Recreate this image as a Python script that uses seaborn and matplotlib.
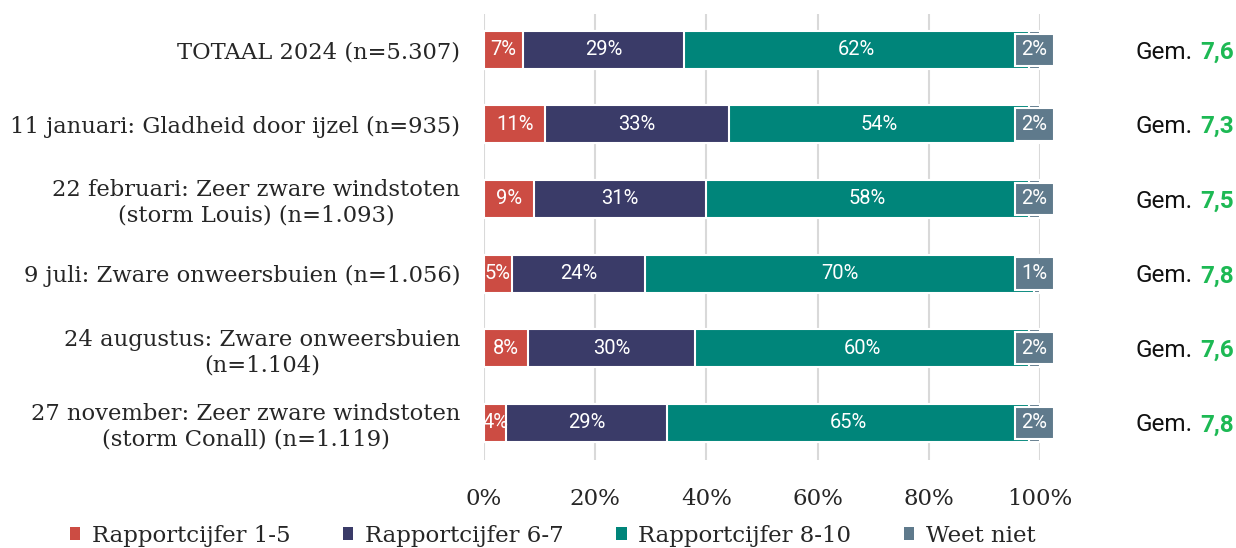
import numpy as np
import pandas as pd
import matplotlib
matplotlib.use("Agg")
import matplotlib.pyplot as plt
import matplotlib.transforms as mtransforms
import seaborn as sns
from matplotlib.patches import Patch

# -------------------------------------------------
# data
# -------------------------------------------------
categories = [
    "TOTAAL 2024 (n=5.307)",
    "11 januari: Gladheid door ijzel (n=935)",
    "22 februari: Zeer zware windstoten\n(storm Louis) (n=1.093)",
    "9 juli: Zware onweersbuien (n=1.056)",
    "24 augustus: Zware onweersbuien\n(n=1.104)",
    "27 november: Zeer zware windstoten\n(storm Conall) (n=1.119)",
]
cijfer_1_5 = [7, 11, 9, 5, 8, 4]
cijfer_6_7 = [29, 33, 31, 24, 30, 29]
cijfer_8_10 = [62, 54, 58, 70, 60, 65]
weet_niet = [2, 2, 2, 1, 2, 2]
gemiddelde = ["7,6", "7,3", "7,5", "7,8", "7,6", "7,8"]

series_names = ["Rapportcijfer 1-5", "Rapportcijfer 6-7", "Rapportcijfer 8-10", "Weet niet"]
colors = ["#cc4c43", "#3a3b68", "#00857a", "#5f7a8c"]

df = pd.DataFrame({
    "cat": categories,
    "s1": cijfer_1_5,
    "s2": cijfer_6_7,
    "s3": cijfer_8_10,
    "s4": weet_niet,
})
vals = df[["s1", "s2", "s3", "s4"]].to_numpy() / 100.0
cum = np.cumsum(vals, axis=1)
for i in range(4):
    df[f"c{i}"] = cum[:, i]

# -------------------------------------------------
# plot
# -------------------------------------------------
sns.set_theme(style="white")
serif = ["DejaVu Serif"]
sans = ["Roboto", "DejaVu Sans"]

fig = plt.figure(figsize=(12.36, 5.48), dpi=100)
ax = fig.add_axes([484 / 1236, 1 - 460 / 548, 556 / 1236, 446 / 548])

# stacked bars: draw the cumulative totals from the back to the front
for i in [3, 2, 1, 0]:
    sns.barplot(data=df, x=f"c{i}", y="cat", color=colors[i], orient="h", saturation=1,
                width=0.51, edgecolor="white", linewidth=1.5, ax=ax, zorder=2)

# labels inside the bars
for r in range(len(categories)):
    left = 0.0
    for i in range(4):
        w = vals[r, i]
        txt = f"{int(round(w * 100))}%"
        if i == 3:
            ax.text(0.99, r, txt, ha="center", va="center",
                    color="white", fontsize=14.5, family=sans, zorder=5, clip_on=False,
                    bbox=dict(boxstyle="square,pad=0.33", fc=colors[3], ec="white", lw=1.5))
        else:
            ax.text(left + w / 2, r, txt, ha="center", va="center",
                    color="white", fontsize=14.5, family=sans, zorder=4)
        left += w

    # average on the right
    tr = mtransforms.blended_transform_factory(fig.transFigure, ax.transData)
    val_t = ax.text(0.998, r + 0.03, gemiddelde[r], transform=tr, ha="right", va="center",
                    color="#1db954", fontsize=17.5, fontweight="bold", family=sans, clip_on=False)
    ax.annotate("Gem.", xy=(0, 0.5), xycoords=val_t, xytext=(-5, 0),
                textcoords="offset points", ha="right", va="center",
                fontsize=17.5, family=sans, color="#111111", annotation_clip=False)

ax.set_xlim(0, 1)
ax.set_ylim(5.5, -0.48)
ax.set_xticks(np.linspace(0, 1, 6))
ax.set_xticklabels([f"{int(t)}%" for t in np.linspace(0, 100, 6)], family=serif, fontsize=16.5)
ax.tick_params(axis="x", length=0, pad=20)
ax.tick_params(axis="y", length=0, pad=17)
for lab in ax.get_yticklabels():
    lab.set_family(serif)
    lab.set_fontsize(16.3)
    lab.set_horizontalalignment("right")
    lab.set_multialignment("center")
ax.set_xlabel("")
ax.set_ylabel("")
ax.grid(axis="x", color="#d9d9d9", linewidth=1.5, zorder=0)
ax.set_axisbelow(True)
for s in ax.spines.values():
    s.set_visible(False)

handles = [Patch(facecolor=c, edgecolor="none") for c in colors]
fig.legend(handles, series_names, loc="lower left", bbox_to_anchor=(0.04, -0.035),
           ncol=4, frameon=False, prop={"family": serif, "size": 16.5},
           handlelength=0.45, handleheight=0.55, handletextpad=0.5, columnspacing=2.3)

fig.savefig("out.png", dpi=100)
